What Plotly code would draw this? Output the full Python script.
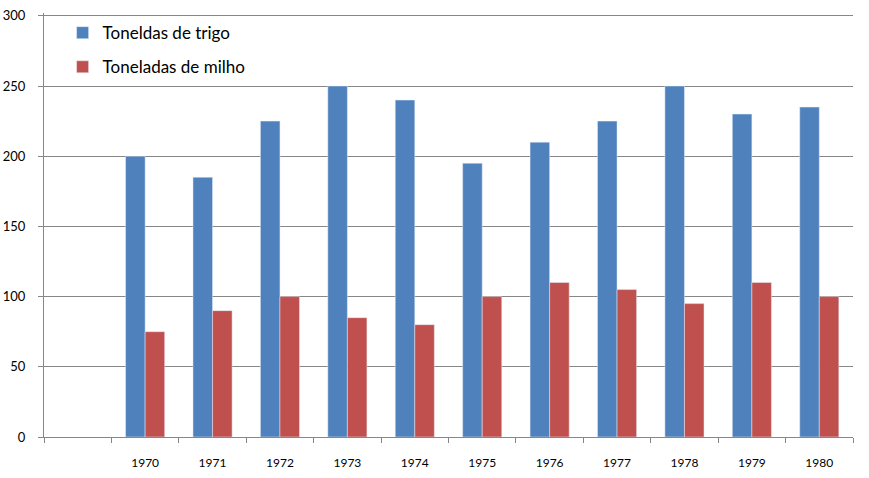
import plotly.graph_objects as go

# categories (first slot is empty in the original chart)
anos = ['', '1970', '1971', '1972', '1973', '1974', '1975',
        '1976', '1977', '1978', '1979', '1980']
trigo = [None, 200, 185, 225, 250, 240, 195, 210, 225, 250, 230, 235]
milho = [None, 75, 90, 100, 85, 80, 100, 110, 105, 95, 110, 100]

azul = '#4F81BD'
vermelho = '#C0504D'
cinza = '#878787'

fig = go.Figure()
fig.add_trace(go.Bar(x=anos, y=trigo, name='Toneldas de trigo',
                     marker_color=azul, legendgroup='a'))
fig.add_trace(go.Bar(x=anos, y=milho, name='Toneladas de milho',
                     marker_color=vermelho, legendgroup='b'))

fig.update_layout(
    width=869, height=478,
    margin=dict(l=44, r=16, t=12.7, b=40.5),
    plot_bgcolor='white', paper_bgcolor='white',
    font=dict(family='Lato', size=13, color='black'),
    barmode='group', bargap=0.42, bargroupgap=0,
    showlegend=True,
    legend=dict(x=0.023, y=0.995, xanchor='left', yanchor='top',
                font=dict(size=17), tracegroupgap=9,
                bgcolor='rgba(0,0,0,0)', traceorder='grouped'),
)

fig.update_xaxes(
    type='category', categoryorder='array', categoryarray=anos,
    showline=True, linecolor=cinza, linewidth=1,
    ticks='outside', tickson='boundaries', ticklen=5, tickcolor=cinza,
    ticklabelstandoff=15, showgrid=False, automargin=False,
    tickfont=dict(size=12),
)
# range a bit above 300 so the top gridline is still drawn
fig.update_yaxes(
    range=[0, 302], tick0=0, dtick=50,
    showline=True, linecolor=cinza, linewidth=1,
    ticks='outside', ticklen=5, tickcolor=cinza,
    showgrid=True, gridcolor=cinza, gridwidth=1,
    zeroline=False, ticklabelstandoff=10, automargin=False,
)

# drop the default 8px body margin so the figure fills the window
fig.write_html('out.html', config={'displayModeBar': False},
               post_script="document.body.style.margin='0';")
